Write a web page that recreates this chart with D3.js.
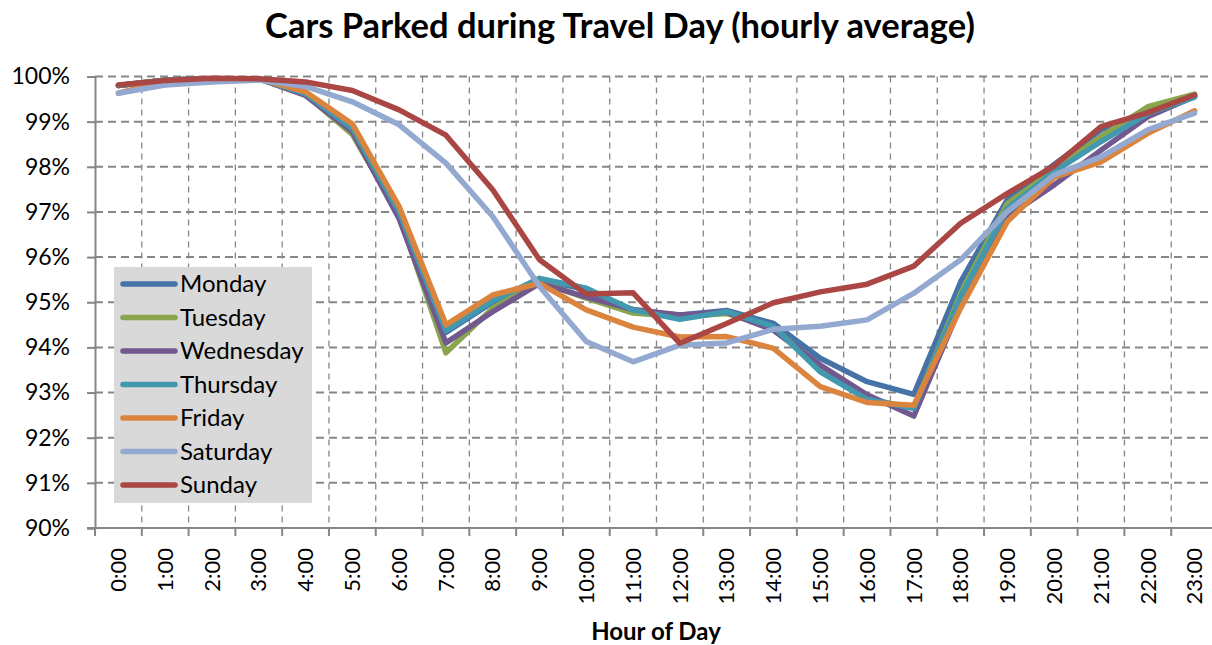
<!DOCTYPE html>
<html>
<head>
<meta charset="utf-8">
<script src="https://cdn.jsdelivr.net/npm/d3@7"></script>
<style>
  html, body { margin: 0; padding: 0; background: #fff; }
  svg { display: block; font-family: Lato, "Open Sans", sans-serif; }
</style>
</head>
<body>
<svg id="chart" width="1212" height="645"></svg>
<script>
const hours = ["0:00","1:00","2:00","3:00","4:00","5:00","6:00","7:00","8:00","9:00","10:00","11:00",
               "12:00","13:00","14:00","15:00","16:00","17:00","18:00","19:00","20:00","21:00","22:00","23:00"];
const yTicks = [0.90,0.91,0.92,0.93,0.94,0.95,0.96,0.97,0.98,0.99,1.00];
const seriesNames = ["Monday","Tuesday","Wednesday","Thursday","Friday","Saturday","Sunday"];
const seriesColors = ["#4572A7","#89A54E","#71588F","#4198AF","#DB843D","#93A9CF","#AA4643"];

const monday    = [99.80,99.92,99.95,99.95,99.60,98.80,96.95,94.33,95.00,95.50,95.28,94.80,94.72,94.82,94.53,93.76,93.24,92.96,95.45,97.28,98.05,98.82,99.22,99.57];
const tuesday   = [99.80,99.92,99.95,99.95,99.60,98.72,96.92,93.88,94.87,95.45,95.09,94.76,94.68,94.75,94.45,93.52,92.87,92.65,95.20,97.19,97.93,98.67,99.33,99.61];
const wednesday = [99.80,99.92,99.95,99.95,99.58,98.78,96.85,94.10,94.79,95.42,95.12,94.84,94.72,94.78,94.38,93.61,92.95,92.48,94.92,96.90,97.60,98.37,99.11,99.56];
const thursday  = [99.80,99.92,99.95,99.95,99.62,98.85,97.00,94.37,95.03,95.53,95.31,94.83,94.62,94.79,94.46,93.46,92.85,92.65,95.12,97.08,97.89,98.56,99.18,99.54];
const friday    = [99.63,99.90,99.94,99.95,99.66,98.95,97.12,94.50,95.16,95.42,94.83,94.45,94.23,94.24,93.98,93.13,92.78,92.72,94.87,96.79,97.77,98.11,98.74,99.24];
const saturday  = [99.63,99.81,99.88,99.92,99.78,99.44,98.93,98.08,96.90,95.35,94.13,93.68,94.05,94.10,94.40,94.47,94.61,95.20,95.94,97.01,97.82,98.22,98.82,99.19];
const sunday    = [99.81,99.91,99.96,99.95,99.88,99.69,99.26,98.70,97.49,95.94,95.18,95.21,94.09,94.53,94.99,95.23,95.40,95.80,96.75,97.41,98.02,98.89,99.20,99.59];

const seriesValues = [monday,tuesday,wednesday,thursday,friday,saturday,sunday];
const series = seriesNames.map((name,i)=>({name, color: seriesColors[i], values: seriesValues[i].map(v=>v/100)}));

const svg = d3.select("#chart");
const pLeft = 95, pRight = 1218, pTop = 76.5, pBottom = 528;
const gridColor = "#868686";

const x = d3.scaleBand().domain(hours).range([pLeft, pRight]).paddingInner(0).paddingOuter(0);
const y = d3.scaleLinear().domain([0.90, 1.00]).range([pBottom, pTop]);
const cx = h => x(h) + x.bandwidth()/2;

// Title
svg.append("text").attr("x", 620).attr("y", 38).attr("text-anchor","middle")
  .attr("font-weight","bold").attr("font-size", 34.5).attr("fill","#000")
  .text("Cars Parked during Travel Day (hourly average)");

// Horizontal gridlines
svg.append("g").selectAll("line").data(yTicks.slice(1)).join("line")
  .attr("x1", pLeft).attr("x2", 1212).attr("y1", d=>y(d)).attr("y2", d=>y(d))
  .attr("stroke", gridColor).attr("stroke-width", 2).attr("stroke-dasharray","8,5");

// Vertical gridlines at category boundaries
const boundaries = hours.slice(1).map(h=>x(h)).concat([pRight]);
svg.append("g").selectAll("line").data(boundaries).join("line")
  .attr("x1", d=>d).attr("x2", d=>d).attr("y1", pTop).attr("y2", pBottom)
  .attr("stroke", gridColor).attr("stroke-width", 1.3).attr("stroke-dasharray","6,5");

// Y axis
const yAxis = d3.axisLeft(y).tickValues(yTicks).tickFormat(d3.format(".0%")).tickSize(8).tickPadding(17);
const gy = svg.append("g").attr("transform", `translate(${pLeft},0)`).call(yAxis);
gy.select(".domain").attr("stroke", gridColor).attr("stroke-width", 2);
gy.selectAll(".tick line").attr("stroke", gridColor).attr("stroke-width", 2);
gy.selectAll(".tick text").attr("font-size", 23).attr("font-family","Lato, sans-serif").attr("fill","#000");

// X axis
const xAxis = d3.axisBottom(x).tickSize(0).tickPadding(0);
const gx = svg.append("g").attr("transform", `translate(0,${pBottom})`).call(xAxis);
gx.select(".domain").remove();
gx.selectAll(".tick text")
  .attr("font-size", 22).attr("font-family","Lato, sans-serif").attr("fill","#000")
  .attr("transform","translate(0,20) rotate(-90)")
  .attr("text-anchor","end").attr("dy","0.35em").attr("y",0).attr("x",0);
svg.append("line").attr("x1", pLeft-8).attr("x2", 1212).attr("y1", pBottom).attr("y2", pBottom)
  .attr("stroke", gridColor).attr("stroke-width", 2);
svg.append("g").selectAll("line").data([pLeft].concat(boundaries)).join("line")
  .attr("x1", d=>d).attr("x2", d=>d).attr("y1", pBottom).attr("y2", pBottom+8)
  .attr("stroke", gridColor).attr("stroke-width", 2);

// X axis title
svg.append("text").attr("x", 656).attr("y", 640).attr("text-anchor","middle")
  .attr("font-weight","bold").attr("font-size", 24).text("Hour of Day");

// Lines
const line = d3.line().x((d,i)=>cx(hours[i])).y(d=>y(d));
svg.append("g").selectAll("path").data(series).join("path")
  .attr("d", d=>line(d.values)).attr("fill","none")
  .attr("stroke", d=>d.color).attr("stroke-width", 5.5)
  .attr("stroke-linejoin","round").attr("stroke-linecap","round");

// Legend
const lg = svg.append("g");
lg.append("rect").attr("x",114).attr("y",267).attr("width",198).attr("height",236).attr("fill","#d9d9d9");
const li = lg.selectAll("g.item").data(series).join("g").attr("class","item")
  .attr("transform",(d,i)=>`translate(0,${284 + i*33.5})`);
li.append("line").attr("x1",123).attr("x2",175).attr("y1",0).attr("y2",0)
  .attr("stroke",d=>d.color).attr("stroke-width",5.5).attr("stroke-linecap","round");
li.append("text").attr("x",180).attr("y",0).attr("dy","0.35em").attr("font-size",24).text(d=>d.name);
</script>
</body>
</html>
